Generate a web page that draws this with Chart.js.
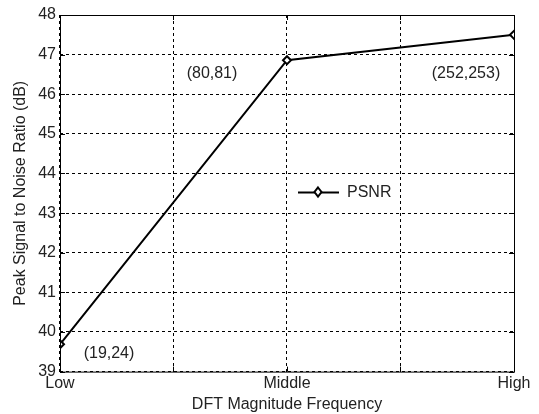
<!DOCTYPE html>
<html>
<head>
<meta charset="utf-8">
<script src="https://cdn.jsdelivr.net/npm/chart.js@4/dist/chart.umd.min.js"></script>
<style>
  html, body { margin: 0; padding: 0; background: #fff; }
  #wrap { width: 539px; height: 414px; }
</style>
</head>
<body>
<div id="wrap"><canvas id="chart"></canvas></div>
<script>
const categories = ['Low', 'Middle', 'High']
const psnr = [39.69, 46.86, 47.5]
const pointNotes = ['(19,24)', '(80,81)', '(252,253)']
const yTicks = [39, 40, 41, 42, 43, 44, 45, 46, 47, 48]

const FONT = 'Liberation Sans, Arial, sans-serif'
const TEXT = '#222'

// box, inward ticks, notes and legend, drawn like the MATLAB figure
const matlabFrame = {
  id: 'matlabFrame',
  afterDraw (chart) {
    const { ctx, chartArea: a, scales } = chart
    ctx.save()
    ctx.strokeStyle = '#000'
    ctx.lineWidth = 1
    ctx.setLineDash([])
    ctx.strokeRect(a.left + 0.5, a.top + 0.5, a.right - a.left, a.bottom - a.top)
    ctx.beginPath()
    for (const t of scales.x.ticks) {
      const px = Math.round(scales.x.getPixelForValue(t.value)) + 0.5
      ctx.moveTo(px, a.bottom); ctx.lineTo(px, a.bottom - 5)
      ctx.moveTo(px, a.top); ctx.lineTo(px, a.top + 5)
    }
    for (const t of scales.y.ticks) {
      const py = Math.round(scales.y.getPixelForValue(t.value)) + 0.5
      ctx.moveTo(a.left, py); ctx.lineTo(a.left + 5, py)
      ctx.moveTo(a.right, py); ctx.lineTo(a.right - 5, py)
    }
    ctx.stroke()

    // point notes, offset in pixels from their points
    ctx.fillStyle = TEXT
    ctx.font = '16px ' + FONT
    ctx.textAlign = 'center'
    ctx.textBaseline = 'middle'
    const noteOffsets = [[49, 9], [-75, 13], [-48, 39]]
    pointNotes.forEach((note, i) => {
      const px = scales.x.getPixelForValue(i) + noteOffsets[i][0]
      const py = scales.y.getPixelForValue(psnr[i]) + noteOffsets[i][1]
      ctx.fillText(note, px, py)
    })

    // legend
    const lx = 298
    const ly = 192
    ctx.beginPath()
    ctx.moveTo(lx, ly + 0.5); ctx.lineTo(lx + 41, ly + 0.5)
    ctx.lineWidth = 2
    ctx.stroke()
    ctx.beginPath()
    ctx.moveTo(lx + 20, ly - 4.5); ctx.lineTo(lx + 23.5, ly); ctx.lineTo(lx + 20, ly + 4.5); ctx.lineTo(lx + 16.5, ly); ctx.closePath()
    ctx.fillStyle = '#fff'
    ctx.fill()
    ctx.stroke()
    ctx.fillStyle = TEXT
    ctx.textAlign = 'left'
    ctx.fillText(chart.data.datasets[0].label, lx + 49, ly + 1)
    ctx.restore()
  }
}

new Chart(document.getElementById('chart'), {
  type: 'line',
  data: {
    datasets: [{
      label: 'PSNR',
      data: psnr.map((v, i) => ({ x: i, y: v })),
      borderColor: '#000',
      borderWidth: 2,
      pointStyle: 'rectRot',
      pointRadius: 4,
      pointBackgroundColor: '#fff',
      pointBorderColor: '#000',
      pointBorderWidth: 2,
      tension: 0
    }]
  },
  options: {
    responsive: true,
    maintainAspectRatio: false,
    animation: false,
    layout: { padding: { top: 15, right: 25, left: 11, bottom: 0 } },
    plugins: { legend: { display: false }, tooltip: { enabled: false } },
    scales: {
      // eslint-disable-next-line id-length
      x: {
        type: 'linear',
        min: 0,
        max: categories.length - 1,
        border: { display: false, dash: [3, 3] },
        ticks: {
          stepSize: 0.5,
          autoSkip: false,
          maxRotation: 0,
          padding: 2,
          color: TEXT,
          font: { family: FONT, size: 16 },
          callback: v => (Number.isInteger(v) ? categories[v] : '')
        },
        grid: { color: '#000', lineWidth: 1, drawTicks: false },
        title: { display: true, text: 'DFT Magnitude Frequency', color: TEXT, font: { family: FONT, size: 16 }, padding: { top: 0, bottom: 0 } }
      },
      // eslint-disable-next-line id-length
      y: {
        min: yTicks[0],
        max: yTicks[yTicks.length - 1],
        border: { display: false, dash: [3, 3] },
        afterBuildTicks: scale => { scale.ticks = yTicks.map(v => ({ value: v })) },
        ticks: { padding: 4, color: TEXT, font: { family: FONT, size: 16 } },
        grid: { color: '#000', lineWidth: 1, drawTicks: false },
        title: { display: true, text: 'Peak Signal to Noise Ratio (dB)', color: TEXT, font: { family: FONT, size: 16 }, padding: { top: 0, bottom: 4 } }
      }
    }
  },
  plugins: [matlabFrame]
})
</script>
</body>
</html>
